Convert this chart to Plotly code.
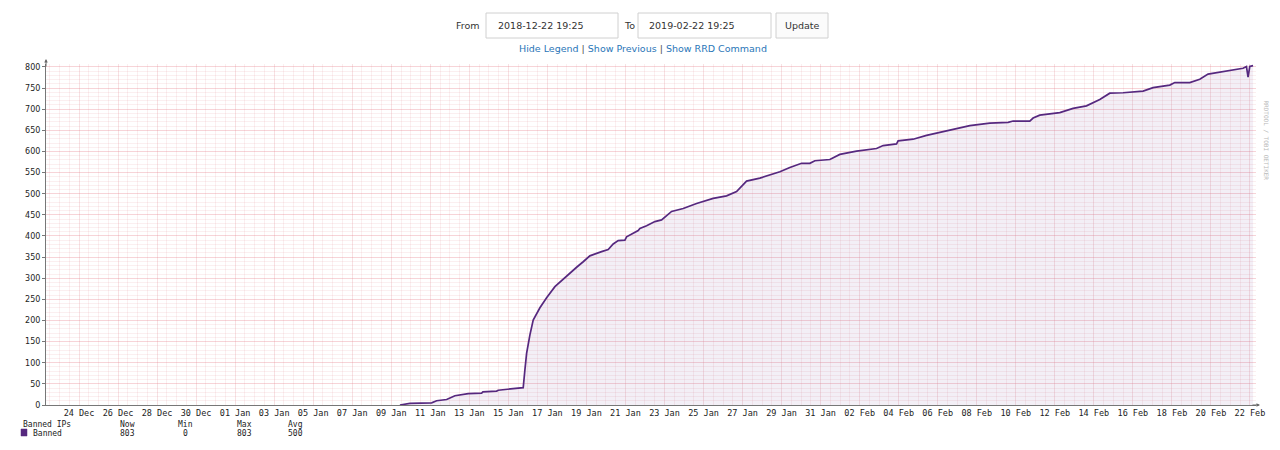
import pandas as pd
import plotly.graph_objects as go

# Banned IPs (fail2ban)
ban_times = [
    "2019-01-09 22:40", "2019-01-10 11:00", "2019-01-11 13:40", "2019-01-11 19:50",
    "2019-01-12 08:05", "2019-01-12 18:17", "2019-01-13 10:40", "2019-01-14 03:07",
    "2019-01-14 04:43", "2019-01-14 21:35", "2019-01-14 23:33", "2019-01-15 17:58",
    "2019-01-16 06:16", "2019-01-16 08:21", "2019-01-16 10:26", "2019-01-16 14:31",
    "2019-01-16 18:33", "2019-01-17 02:48", "2019-01-17 11:02", "2019-01-17 21:14",
    "2019-01-18 07:26", "2019-01-18 17:47", "2019-01-18 23:56", "2019-01-19 08:02",
    "2019-01-19 16:16", "2019-01-20 06:40", "2019-01-20 14:47", "2019-01-20 20:56",
    "2019-01-21 03:04", "2019-01-21 11:18", "2019-01-21 13:24", "2019-01-22 03:40",
    "2019-01-22 05:46", "2019-01-22 14:00", "2019-01-23 00:11", "2019-01-23 08:25",
    "2019-01-23 20:44", "2019-01-24 11:00", "2019-01-25 03:29", "2019-01-25 23:53",
    "2019-01-26 16:21", "2019-01-27 04:39", "2019-01-27 10:48", "2019-01-27 16:56",
    "2019-01-28 09:17", "2019-01-29 01:39", "2019-01-29 09:53", "2019-01-29 22:10",
    "2019-01-30 12:34", "2019-01-30 22:47", "2019-01-31 04:55", "2019-01-31 23:21",
    "2019-02-01 11:40", "2019-02-02 08:11", "2019-02-03 08:47", "2019-02-03 16:54",
    "2019-02-04 09:22", "2019-02-04 11:20", "2019-02-05 05:47", "2019-02-05 22:15",
    "2019-02-06 16:42", "2019-02-07 09:03", "2019-02-08 03:30", "2019-02-09 04:05",
    "2019-02-10 02:35", "2019-02-10 08:44", "2019-02-11 05:15", "2019-02-11 09:19",
    "2019-02-11 17:33", "2019-02-12 18:08", "2019-02-13 10:29", "2019-02-14 02:58",
    "2019-02-14 19:19", "2019-02-15 07:38", "2019-02-15 23:59", "2019-02-17 00:33",
    "2019-02-17 12:52", "2019-02-18 09:24", "2019-02-18 15:33", "2019-02-19 09:59",
    "2019-02-19 22:16", "2019-02-20 08:28", "2019-02-20 18:49", "2019-02-21 15:13",
    "2019-02-22 03:30", "2019-02-22 07:41", "2019-02-22 09:39", "2019-02-22 11:45",
    "2019-02-22 15:48",
]
ban_counts = [
    0, 4, 5, 10,
    13, 22, 27, 28,
    31, 33, 35, 38,
    41, 83, 122, 166,
    201, 230, 254, 280,
    298, 315, 326, 339,
    353, 363, 368, 381,
    389, 390, 398, 413,
    418, 424, 434, 438,
    458, 465, 477, 489,
    495, 505, 517, 530,
    537, 546, 552, 562,
    572, 572, 578, 581,
    593, 601, 607, 614,
    618, 625, 629, 638,
    646, 652, 661, 667,
    669, 672, 672, 679,
    686, 692, 702, 708,
    723, 738, 739, 743,
    751, 757, 763, 763,
    771, 783, 786, 793,
    797, 801, 776, 801,
    803,
]

range_start = "2018-12-22 19:25"
range_end = "2019-02-22 19:25"

# x labels every 2 days, placed at noon like rrdtool does
label_days = pd.date_range("2018-12-24", "2019-02-22", freq="2D")
tick_vals = [d + pd.Timedelta(hours=12) for d in label_days]
tick_text = [d.strftime("%d %b") for d in label_days]

legend_cols = ["Now", "Min", "Max", "Avg"]
legend_vals = ["803", "0", "803", "500"]

# the page has an 8px body margin, figure is placed at (8, 8)
OFF = 8
FIG_W, FIG_H = 1272, 442

# plot area in page pixels
L, R, T, B = 46, 1256, 64, 405
W, H = R - L, B - T


def px(x):
    return (x - L) / W


def py(y):
    return (B - y) / H


line_col = "#56287f"
mono = "DejaVu Sans Mono"
ui_font = "DejaVu Sans"
grid_major = "rgba(230,120,130,0.22)"
grid_minor = "rgba(230,140,150,0.14)"

fig = go.Figure()
fig.add_trace(go.Scatter(
    x=ban_times, y=ban_counts, mode="lines",
    line=dict(color=line_col, width=1.7),
    fill="tozeroy", fillcolor="rgba(120,80,160,0.09)",
    name="Banned", hoverinfo="x+y",
))

fig.update_layout(
    width=FIG_W, height=FIG_H,
    margin=dict(l=L - OFF, r=FIG_W - (R - OFF), t=T - OFF, b=FIG_H - (B - OFF)),
    paper_bgcolor="white", plot_bgcolor="white",
    showlegend=False,
    font=dict(family=mono, size=8, color="#333"),
    xaxis=dict(
        type="date", range=[range_start, range_end],
        tickvals=tick_vals, ticktext=tick_text,
        tickfont=dict(family=mono, size=8.5, color="#222"),
        showgrid=True, gridcolor=grid_minor, gridwidth=1,
        minor=dict(dtick=43200000, tick0="2018-12-23", showgrid=True,
                   gridcolor=grid_minor, gridwidth=1),
        showline=True, linecolor="#777", linewidth=1,
        ticks="", zeroline=False, fixedrange=True,
    ),
    yaxis=dict(
        range=[0, 807],
        tickvals=list(range(0, 801, 50)),
        tickfont=dict(family=ui_font, size=8, color="#222"),
        showgrid=True, gridcolor=grid_major, gridwidth=1,
        minor=dict(dtick=10, showgrid=True, gridcolor=grid_minor, gridwidth=1),
        showline=True, linecolor="#777", linewidth=1,
        ticks="outside", ticklen=3, tickcolor="#777",
        zeroline=False, fixedrange=True,
    ),
)

shapes = []
annotations = []

# header form
for x0, x1 in [(486, 618), (638, 771)]:
    shapes.append(dict(type="rect", xref="paper", yref="paper",
                       x0=px(x0), x1=px(x1), y0=py(38), y1=py(13),
                       line=dict(color="#d0d0d0", width=1), fillcolor="white"))
shapes.append(dict(type="rect", xref="paper", yref="paper",
                   x0=px(776), x1=px(828), y0=py(38), y1=py(13),
                   line=dict(color="#d0d0d0", width=1), fillcolor="#fbfbfb"))

header = [
    (482, "From", "right"), (496, "2018-12-22 19:25", "left"),
    (622, "To", "left"), (647, "2019-02-22 19:25", "left"),
    (802, "Update", "center"),
]
for x, txt, anchor in header:
    annotations.append(dict(xref="paper", yref="paper", x=px(x), y=py(25.5),
                            text=txt, showarrow=False, xanchor=anchor, yanchor="middle",
                            font=dict(family=ui_font, size=9.5, color="#333")))

link = "color:#2a76b8"
annotations.append(dict(
    xref="paper", yref="paper", x=px(643), y=py(48), showarrow=False,
    xanchor="center", yanchor="middle",
    text=(f"<span style='{link}'>Hide Legend</span> | "
          f"<span style='{link}'>Show Previous</span> | "
          f"<span style='{link}'>Show RRD Command</span>"),
    font=dict(family=ui_font, size=9.5, color="#555"),
))

# rrdtool watermark
annotations.append(dict(xref="paper", yref="paper", x=px(1272), y=py(98),
                        text="RRDTOOL / TOBI OETIKER", textangle=90, showarrow=False,
                        font=dict(family=mono, size=6, color="#b8b8b8")))

# axis arrow heads
annotations.append(dict(xref="paper", yref="paper", x=px(46), y=py(59), ax=0, ay=9,
                        text="", showarrow=True, arrowhead=2, arrowsize=0.7,
                        arrowwidth=1, arrowcolor="#666"))
annotations.append(dict(xref="paper", yref="paper", x=px(1260), y=py(405), ax=-9, ay=0,
                        text="", showarrow=True, arrowhead=2, arrowsize=0.7,
                        arrowwidth=1, arrowcolor="#666"))

# rrd legend block
annotations.append(dict(xref="paper", yref="paper", x=px(21), y=py(424), text="Banned IPs",
                        showarrow=False, xanchor="left", yanchor="middle",
                        font=dict(family=mono, size=8, color="#222")))
annotations.append(dict(xref="paper", yref="paper", x=px(31), y=py(433), text="Banned",
                        showarrow=False, xanchor="left", yanchor="middle",
                        font=dict(family=mono, size=8, color="#222")))
shapes.append(dict(type="rect", xref="paper", yref="paper",
                   x0=px(21), x1=px(27), y0=py(436), y1=py(429),
                   line=dict(color=line_col, width=0.5), fillcolor=line_col))
for x, head, val in zip([128, 185, 244, 295], legend_cols, legend_vals):
    annotations.append(dict(xref="paper", yref="paper", x=px(x), y=py(424), text=head,
                            showarrow=False, xanchor="center", yanchor="middle",
                            font=dict(family=mono, size=8, color="#222")))
    annotations.append(dict(xref="paper", yref="paper", x=px(x), y=py(433), text=val,
                            showarrow=False, xanchor="center", yanchor="middle",
                            font=dict(family=mono, size=8, color="#222")))

fig.update_layout(shapes=shapes, annotations=annotations)
fig.write_html("out.html")
